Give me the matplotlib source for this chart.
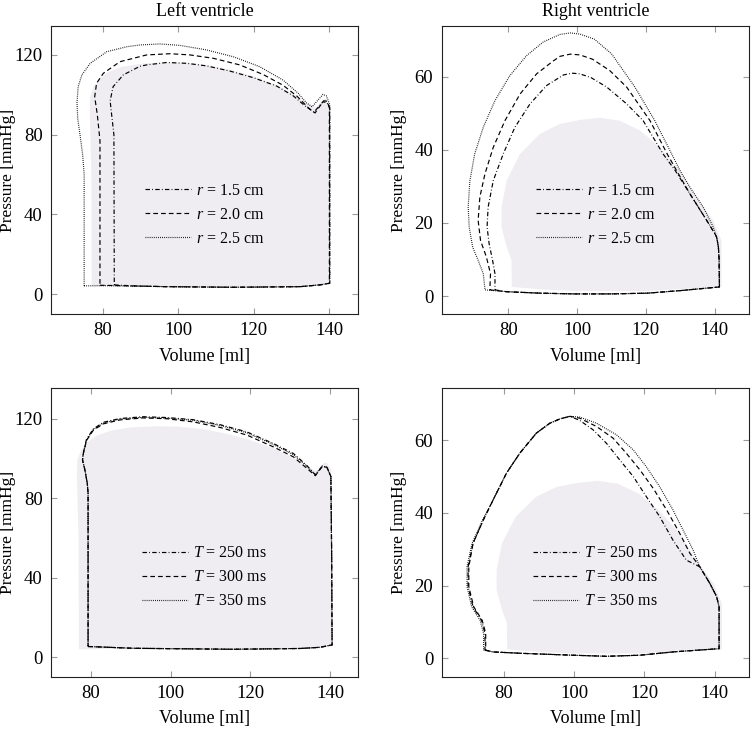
"""
Pressure-volume loops for the left and right ventricle, for three ring
radii (top row) and three contraction times (bottom row).
"""

import matplotlib
matplotlib.use("Agg")
import matplotlib.pyplot as plt

# ---------------------------------------------------------------------------
# Style
# ---------------------------------------------------------------------------
plt.rcParams["font.family"] = "serif"
plt.rcParams["font.serif"] = ["Liberation Serif", "DejaVu Serif"]
plt.rcParams["mathtext.fontset"] = "custom"
plt.rcParams["mathtext.rm"] = "Liberation Serif"
plt.rcParams["mathtext.it"] = "Liberation Serif:italic"
plt.rcParams["lines.scale_dashes"] = False

FILL = "#efedf1"
TICK_GREY = "#9a9a9a"
LW = 0.85

DASHDOT = (0, (3.2, 1.6, 0.6, 1.6))
DASHED = (0, (3.4, 2.2))
DOTTED = (0, (0.6, 0.9))

# ---------------------------------------------------------------------------
# Data: reference loops (grey area)
# ---------------------------------------------------------------------------
LV_REF_V = [77.0, 85.0, 100.0, 120.0, 137.0, 140.3, 140.3, 139.2, 138.3, 136.5,
            134.5, 131.0, 126.0, 120.0, 114.0, 108.0, 102.0, 96.0, 90.0, 85.0,
            81.5, 79.0, 77.5, 76.6, 76.5, 76.9, 77.0]
LV_REF_P = [4.0, 4.2, 3.8, 3.6, 4.3, 5.5, 94.0, 98.0, 97.5, 93.5,
            95.5, 100.0, 105.0, 109.2, 112.5, 114.8, 116.0, 116.2, 115.6, 114.0,
            111.5, 108.0, 104.0, 99.0, 90.0, 60.0, 4.0]

RV_REF_V = [81.0, 90.0, 100.0, 120.0, 130.0, 142.0, 142.0, 139.6, 134.7, 129.9,
            124.1, 118.3, 112.4, 106.6, 100.8, 95.0, 89.2, 83.4, 79.5, 78.0,
            78.0, 79.5, 80.9, 81.0]
RV_REF_P = [2.5, 1.8, 1.4, 1.4, 1.9, 2.5, 15.2, 20.7, 27.1, 34.4,
            40.7, 45.3, 48.0, 48.8, 48.2, 47.1, 44.4, 38.9, 31.6, 24.3,
            18.9, 13.4, 9.8, 2.5]

# ---------------------------------------------------------------------------
# Data: left ventricle, ring radius r
# ---------------------------------------------------------------------------
LV_R15_V = [83.0, 88.0, 96.9, 114.6, 132.3, 137.6, 140.2, 140.2, 140.2, 139.5,
            138.4, 136.0, 133.6, 130.5, 126.1, 119.9, 113.7, 107.5, 102.2, 96.9,
            91.6, 89.8, 85.4, 82.7, 81.9, 82.3, 82.9, 83.0]
LV_R15_P = [4.7, 4.2, 3.8, 3.5, 3.8, 4.7, 5.5, 60.0, 93.5, 96.0,
            96.5, 91.3, 94.5, 99.5, 104.4, 108.6, 111.9, 114.5, 115.8, 116.2,
            115.0, 114.3, 110.0, 104.1, 97.0, 90.0, 80.0, 4.7]

LV_R20_V = [79.2, 85.0, 96.9, 114.6, 132.3, 137.6, 140.1, 140.1, 140.1, 139.5,
            138.6, 136.3, 134.5, 131.4, 127.8, 122.5, 116.3, 109.3, 103.1, 97.8,
            91.6, 84.5, 80.1, 78.3, 77.8, 78.5, 79.2, 79.2]
LV_R20_P = [4.5, 4.3, 3.8, 3.5, 3.8, 4.7, 5.5, 60.0, 93.5, 96.8,
            97.0, 90.9, 93.5, 99.5, 104.8, 110.2, 115.0, 118.3, 120.0, 120.6,
            120.0, 116.6, 110.8, 105.8, 99.0, 90.0, 77.0, 4.5]

LV_R25_V = [75.0, 80.0, 96.9, 114.6, 132.3, 137.6, 140.2, 140.2, 140.2, 139.3,
            138.4, 135.5, 134.0, 131.8, 127.8, 121.6, 114.6, 107.5, 100.4, 95.1,
            89.8, 86.3, 81.0, 76.6, 74.4, 73.4, 73.1, 73.3, 73.9, 74.6, 75.0,
            75.0]
LV_R25_P = [4.2, 4.3, 3.8, 3.5, 3.8, 4.7, 5.5, 60.0, 95.0, 99.5,
            100.2, 94.0, 96.0, 100.8, 107.4, 114.1, 119.1, 122.5, 124.8, 125.5,
            125.0, 124.1, 121.6, 115.8, 110.0, 104.0, 96.0, 88.0, 80.0, 70.0,
            60.0, 4.2]

# ---------------------------------------------------------------------------
# Data: right ventricle, ring radius r
# ---------------------------------------------------------------------------
RV_R15_V = [76.1, 79.5, 89.2, 98.9, 110.0, 120.4, 130.0, 141.4, 141.3, 141.1,
            140.6, 140.1, 137.7, 132.8, 128.5, 125.0, 119.2, 114.4, 108.6, 104.0,
            100.8, 98.5, 96.0, 91.1, 86.3, 81.9, 78.5, 75.6, 74.1, 73.8,
            74.4, 75.4, 76.1, 76.1]
RV_R15_P = [1.7, 1.2, 0.8, 0.6, 0.6, 0.8, 1.5, 2.5, 10.0, 13.4,
            16.1, 17.0, 20.7, 28.0, 34.4, 38.9, 48.0, 52.6, 57.2, 59.8,
            60.8, 61.0, 60.5, 57.6, 52.6, 46.2, 38.9, 31.6, 24.3, 18.9,
            14.3, 9.8, 6.1, 1.7]

RV_R20_V = [74.6, 79.5, 89.2, 98.9, 110.0, 120.4, 130.0, 141.4, 141.3, 141.1,
            140.6, 140.1, 137.7, 132.8, 128.9, 126.2, 121.2, 114.4, 109.5, 104.5,
            100.8, 98.0, 95.0, 93.0, 88.2, 83.4, 79.0, 75.6, 73.2, 71.7,
            71.2, 71.9, 73.6, 74.8, 74.6]
RV_R20_P = [1.7, 1.2, 0.8, 0.6, 0.6, 0.8, 1.5, 2.5, 10.0, 13.4,
            16.1, 17.0, 20.7, 28.0, 34.4, 38.9, 48.0, 57.2, 61.7, 64.8,
            66.0, 66.2, 65.6, 64.3, 60.8, 55.3, 48.0, 40.7, 33.5, 27.1,
            20.7, 15.2, 10.7, 6.1, 1.7]

RV_R25_V = [73.2, 79.5, 89.2, 98.9, 110.0, 120.4, 130.0, 141.4, 141.3, 141.1,
            140.6, 139.6, 136.7, 132.8, 129.9, 127.5, 122.6, 116.8, 110.0, 105.0,
            100.8, 98.0, 95.0, 90.1, 85.3, 80.4, 76.1, 72.7, 70.2, 68.8,
            68.3, 68.6, 69.6, 71.2, 72.7, 73.2]
RV_R25_P = [1.7, 1.2, 0.8, 0.6, 0.6, 0.8, 1.5, 2.5, 10.0, 13.4,
            16.1, 18.9, 24.3, 29.8, 34.4, 38.9, 48.0, 57.2, 66.3, 70.3,
            71.7, 72.0, 71.6, 69.5, 65.8, 60.3, 53.5, 46.2, 38.9, 31.6,
            24.3, 18.9, 13.4, 9.8, 6.1, 1.7]

# ---------------------------------------------------------------------------
# Data: left ventricle, contraction time T
# ---------------------------------------------------------------------------
LV_T250_V = [79.3, 90.6, 115.8, 132.5, 137.5, 140.5, 140.4, 140.2, 139.2, 138.0,
             136.3, 134.2, 130.8, 125.8, 119.1, 112.4, 105.7, 99.0, 93.1, 87.3,
             83.1, 80.6, 78.9, 78.1, 77.9, 78.5, 79.1, 79.3, 79.3]
LV_T250_P = [5.4, 4.5, 4.0, 4.4, 5.0, 6.2, 50.0, 90.9, 95.6, 95.9,
             91.7, 96.4, 102.5, 107.5, 113.4, 117.0, 119.5, 120.6, 121.0, 120.1,
             118.2, 114.8, 109.6, 102.6, 99.3, 94.2, 87.5, 82.5, 5.4]

LV_T300_V = [79.3, 90.6, 115.8, 132.5, 137.5, 140.5, 140.4, 140.2, 139.2, 138.0,
             136.3, 134.2, 130.8, 125.8, 119.1, 112.4, 105.7, 99.0, 93.1, 87.3,
             83.1, 80.6, 78.9, 78.1, 77.9, 78.5, 79.1, 79.3, 79.3]
LV_T300_P = [5.4, 4.5, 4.0, 4.4, 5.0, 6.2, 50.0, 90.9, 95.6, 95.9,
             91.3, 95.0, 100.8, 105.8, 111.8, 115.6, 118.4, 120.0, 120.4, 119.4,
             117.4, 114.2, 109.0, 102.4, 99.3, 94.2, 87.5, 82.5, 5.4]

LV_T350_V = [79.3, 90.6, 115.8, 132.5, 137.5, 140.5, 140.4, 140.2, 139.2, 138.0,
             136.3, 134.2, 130.8, 125.8, 119.1, 112.4, 105.7, 99.0, 93.1, 87.3,
             83.1, 80.6, 78.9, 78.1, 77.9, 78.5, 79.1, 79.3, 79.3]
LV_T350_P = [5.4, 4.5, 4.0, 4.4, 5.0, 6.2, 50.0, 90.9, 95.6, 96.2,
             91.9, 96.0, 101.9, 107.0, 112.9, 116.6, 119.2, 120.3, 120.7, 119.8,
             117.8, 114.5, 109.3, 102.6, 99.3, 94.2, 87.5, 82.5, 5.4]

# ---------------------------------------------------------------------------
# Data: right ventricle, contraction time T
# ---------------------------------------------------------------------------
RV_T250_V = [74.7, 77.0, 85.5, 99.7, 109.2, 118.7, 128.1, 141.2, 141.2, 140.5,
             138.6, 135.7, 131.9, 128.1, 124.3, 120.5, 116.8, 113.0, 109.2, 105.4,
             101.6, 98.8, 96.0, 93.1, 89.3, 84.6, 80.8, 77.5, 74.2, 71.3,
             69.9, 69.9, 71.3, 73.7, 74.7, 74.7]
RV_T250_P = [2.3, 1.8, 1.4, 0.9, 0.6, 0.9, 1.8, 2.7, 14.2, 17.0,
             20.6, 25.2, 27.0, 32.5, 39.0, 44.5, 50.0, 54.5, 59.1, 62.8,
             65.4, 66.5, 65.8, 64.6, 61.9, 56.4, 50.9, 44.5, 38.0, 31.6,
             25.2, 19.7, 14.2, 10.5, 6.9, 2.3]

RV_T300_V = [74.9, 77.0, 85.5, 99.7, 109.2, 118.7, 128.1, 141.2, 141.2, 140.5,
             138.6, 135.7, 132.9, 130.0, 126.3, 122.5, 118.7, 114.9, 111.1, 106.4,
             101.6, 98.8, 96.0, 93.1, 89.3, 84.6, 80.8, 77.5, 74.2, 71.3,
             70.1, 70.1, 71.5, 73.9, 74.9, 74.9]
RV_T300_P = [2.3, 1.8, 1.4, 0.9, 0.6, 0.9, 1.8, 2.7, 14.2, 17.0,
             20.6, 25.2, 28.9, 34.4, 40.8, 46.7, 51.8, 56.3, 60.5, 63.7,
             66.0, 66.5, 65.8, 64.6, 61.9, 56.4, 50.9, 44.5, 38.0, 31.6,
             25.2, 19.7, 14.2, 10.5, 6.9, 2.3]

RV_T350_V = [74.3, 77.0, 85.5, 99.7, 109.2, 118.7, 128.1, 141.2, 141.2, 140.5,
             138.6, 135.7, 133.8, 131.9, 128.1, 124.3, 120.5, 116.8, 112.1, 106.4,
             101.6, 98.8, 96.0, 93.1, 89.3, 84.6, 80.8, 77.5, 74.0, 71.0,
             69.6, 69.6, 70.9, 73.3, 74.3, 74.3]
RV_T350_P = [2.3, 1.8, 1.4, 0.9, 0.6, 0.9, 1.8, 2.7, 14.2, 17.0,
             20.6, 25.2, 29.8, 33.5, 40.8, 47.2, 52.7, 57.3, 61.4, 64.6,
             66.3, 66.5, 65.8, 64.6, 61.9, 56.4, 50.9, 44.5, 38.0, 31.6,
             25.2, 19.7, 14.2, 10.5, 6.9, 2.3]

R_LABELS = [r"$r$ = 1.5 cm", r"$r$ = 2.0 cm", r"$r$ = 2.5 cm"]
T_LABELS = [r"$T$ = 250 ms", r"$T$ = 300 ms", r"$T$ = 350 ms"]
LINESTYLES = [DASHDOT, DASHED, DOTTED]

LV_TICKS = [0, 40, 80, 120]
RV_TICKS = [0, 20, 40, 60]
V_TICKS = [80, 100, 120, 140]


# ---------------------------------------------------------------------------
# Helpers
# ---------------------------------------------------------------------------
def style_axes(ax, xlim, ylim, yticks):
    ax.set_xlim(*xlim)
    ax.set_ylim(*ylim)
    ax.set_xticks(V_TICKS)
    ax.set_yticks(yticks)
    ax.tick_params(direction="in", top=True, right=True, length=4.5,
                   width=0.8, color=TICK_GREY, labelsize=13.5, pad=6)
    for sp in ax.spines.values():
        sp.set_linewidth(0.8)
        sp.set_color("#222222")
    ax.set_xlabel("Volume [ml]", fontsize=13, labelpad=6)
    ax.set_ylabel("Pressure [mmHg]", fontsize=12.5)
    # right edge of the rotated label sits ~35 px left of the spine
    ax.yaxis.set_label_coords(-0.113, 0.5)


def draw_panel(ax, ref_v, ref_p, curves, labels):
    ax.fill(ref_v, ref_p, color=FILL, lw=0, zorder=0)
    for (v, p), ls, lab in zip(curves, LINESTYLES, labels):
        ax.plot(v, p, color="black", lw=LW, linestyle=ls, label=lab, zorder=2)
    ax.legend(loc="center", bbox_to_anchor=(0.5, 0.345), frameon=False,
              fontsize=11.5, handlelength=2.9, handletextpad=0.3,
              labelspacing=0.5, borderpad=0.2)


# ---------------------------------------------------------------------------
# Figure
# ---------------------------------------------------------------------------
W, H = 751, 729
fig = plt.figure(figsize=(W / 100, H / 100), dpi=100)


def axes_px(left, top, right, bottom):
    return fig.add_axes([left / W, 1 - bottom / H, (right - left) / W,
                         (bottom - top) / H])


ax_tl = axes_px(51, 26, 358, 314)
ax_tr = axes_px(441.7, 26, 749, 314)
ax_bl = axes_px(51, 388.3, 358, 676.7)
ax_br = axes_px(441.7, 388.3, 749, 676.7)

draw_panel(ax_tl, LV_REF_V, LV_REF_P,
           [(LV_R15_V, LV_R15_P), (LV_R20_V, LV_R20_P), (LV_R25_V, LV_R25_P)],
           R_LABELS)
style_axes(ax_tl, (66.2, 147.7), (-9.9, 134.5), LV_TICKS)
ax_tl.set_title("Left ventricle", fontsize=13, pad=7)

draw_panel(ax_tr, RV_REF_V, RV_REF_P,
           [(RV_R15_V, RV_R15_P), (RV_R20_V, RV_R20_P), (RV_R25_V, RV_R25_P)],
           R_LABELS)
style_axes(ax_tr, (60.6, 150.0), (-4.9, 73.9), RV_TICKS)
ax_tr.set_title("Right ventricle", fontsize=13, pad=7)

draw_panel(ax_bl, LV_REF_V, LV_REF_P,
           [(LV_T250_V, LV_T250_P), (LV_T300_V, LV_T300_P),
            (LV_T350_V, LV_T350_P)],
           T_LABELS)
style_axes(ax_bl, (70.0, 147.0), (-9.8, 135.3), LV_TICKS)

draw_panel(ax_br, RV_REF_V, RV_REF_P,
           [(RV_T250_V, RV_T250_P), (RV_T300_V, RV_T300_P),
            (RV_T350_V, RV_T350_P)],
           T_LABELS)
style_axes(ax_br, (62.4, 149.7), (-5.0, 74.2), RV_TICKS)

fig.savefig("out.png", dpi=100)
